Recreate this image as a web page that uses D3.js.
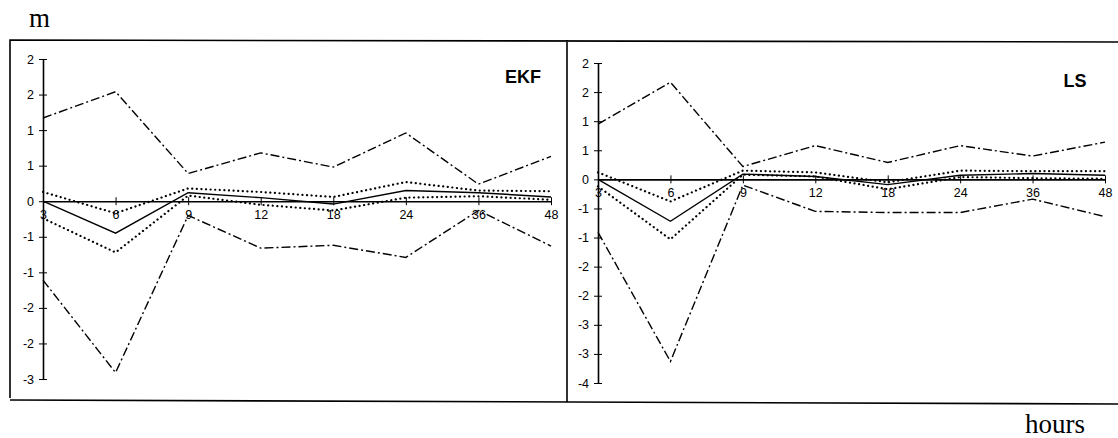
<!DOCTYPE html>
<html>
<head>
<meta charset="utf-8">
<script src="https://cdn.jsdelivr.net/npm/d3@7"></script>
<style>
  body { margin: 0; background: #fff; }
  svg { display: block; }
  .tick text { font-family: "Liberation Sans", Arial, sans-serif; font-size: 12.5px; fill: #000; }
</style>
</head>
<body>
<script>
// forecast hours (categorical x axis)
const hours = ["3", "6", "9", "12", "18", "24", "36", "48"];

// EKF panel
const ekfMax  = [1.17, 1.54, 0.39, 0.68, 0.48, 0.96, 0.24, 0.63];
const ekfMin  = [-1.11, -2.41, -0.20, -0.66, -0.62, -0.79, -0.13, -0.63];
const ekfMean = [0, -0.45, 0.12, 0.05, -0.04, 0.15, 0.12, 0.06];
const ekfHi   = [0.13, -0.17, 0.18, 0.13, 0.06, 0.27, 0.15, 0.14];
const ekfLo   = [-0.24, -0.72, 0.08, -0.05, -0.13, 0.05, 0.07, 0.02];

// LS panel
const lsMax  = [0.95, 1.67, 0.22, 0.58, 0.29, 0.58, 0.40, 0.64];
const lsMin  = [-0.91, -3.13, -0.10, -0.55, -0.57, -0.57, -0.34, -0.64];
const lsMean = [0, -0.72, 0.09, 0.05, -0.09, 0.07, 0.10, 0.07];
const lsHi   = [0.12, -0.38, 0.15, 0.12, -0.05, 0.15, 0.14, 0.14];
const lsLo   = [-0.12, -1.03, 0.08, 0.05, -0.17, 0.04, 0.02, 0.01];

// y ticks every 0.5
const ekfTicks = d3.range(-2.5, 2.01, 0.5);
const lsTicks  = d3.range(-3.5, 2.01, 0.5);

const w = 1118, h = 438;

const svg = d3.select("body").append("svg")
    .attr("width", w)
    .attr("height", h);

// outer frame + divider
svg.append("path")
    .attr("d", "M10,398 L10,40 L1125,42 M10,400 L1125,404 M567,40 L567,402")
    .attr("fill", "none")
    .attr("stroke", "#000")
    .attr("stroke-width", 1.6);

svg.append("text")
    .attr("x", 29).attr("y", 27)
    .style("font-family", "'Liberation Serif', 'Times New Roman', serif")
    .style("font-size", "27px")
    .text("m");

svg.append("text")
    .attr("x", 1025).attr("y", 433)
    .style("font-family", "'Liberation Serif', 'Times New Roman', serif")
    .style("font-size", "27px")
    .text("hours");

// Excel-ish rounding of tick labels (0.5 -> 1, -1.5 -> -2 ...)
const fmt = d => {
    const r = Math.sign(d) * Math.round(Math.abs(d));
    return r === 0 ? "0" : String(r);
};

function drawPanel(p) {
    const x = d3.scalePoint().domain(hours).range([p.x0, p.x1]);
    const y = d3.scaleLinear().domain(p.domain).range([p.yBottom, p.yTop]);

    const g = svg.append("g");

    const yAxis = g.append("g")
        .attr("transform", `translate(${p.x0},0)`)
        .call(d3.axisLeft(y).tickValues(p.ticks).tickFormat(fmt).tickSize(4).tickSizeOuter(0));
    yAxis.selectAll(".tick line").attr("x1", 4);
    yAxis.selectAll(".tick text").attr("x", -9);
    yAxis.select(".domain").attr("stroke-width", 1.6);

    const xAxis = g.append("g")
        .attr("transform", `translate(0,${y(0)})`)
        .call(d3.axisBottom(x).tickSize(4).tickSizeOuter(0));
    xAxis.selectAll(".tick line").attr("y1", -4);
    xAxis.selectAll(".tick text").attr("y", 9);
    xAxis.select(".domain").attr("stroke-width", 1.6);

    const line = d3.line()
        .x((d, i) => x(hours[i]))
        .y(d => y(d));

    const styles = [
        { data: p.max,  dash: "9,3,2,3", width: 1.4, cap: "butt" },
        { data: p.min,  dash: "9,3,2,3", width: 1.4, cap: "butt" },
        { data: p.hi,   dash: "0.1,4.5", width: 2.2, cap: "round" },
        { data: p.lo,   dash: "0.1,4.5", width: 2.2, cap: "round" },
        { data: p.mean, dash: null,      width: 1.4, cap: "butt" }
    ];

    styles.forEach(s => {
        g.append("path")
            .attr("d", line(s.data))
            .attr("fill", "none")
            .attr("stroke", "#000")
            .attr("stroke-width", s.width)
            .attr("stroke-linecap", s.cap)
            .attr("stroke-dasharray", s.dash);
    });

    g.append("text")
        .attr("x", p.labelX).attr("y", p.labelY)
        .attr("text-anchor", "middle")
        .style("font-family", "'Liberation Sans', Arial, sans-serif")
        .style("font-weight", "bold")
        .style("font-size", "18px")
        .text(p.label);
}

drawPanel({
    x0: 43, x1: 551, domain: [-2.5, 2], yBottom: 379, yTop: 59, ticks: ekfTicks,
    max: ekfMax, min: ekfMin, mean: ekfMean, hi: ekfHi, lo: ekfLo,
    label: "EKF", labelX: 523, labelY: 83
});

drawPanel({
    x0: 598, x1: 1105, domain: [-3.5, 2], yBottom: 383, yTop: 63, ticks: lsTicks,
    max: lsMax, min: lsMin, mean: lsMean, hi: lsHi, lo: lsLo,
    label: "LS", labelX: 1075, labelY: 87
});
</script>
</body>
</html>
